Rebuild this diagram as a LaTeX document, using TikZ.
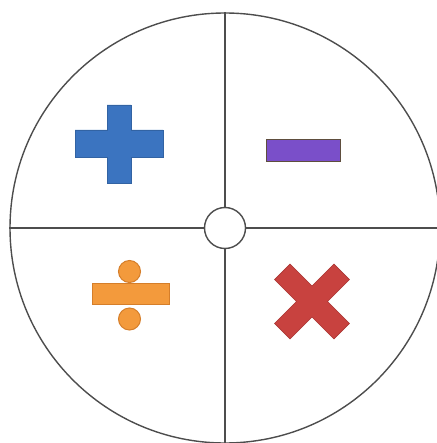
\documentclass[tikz,border=0pt]{standalone}
\usepackage{tikz}
\usetikzlibrary{positioning}
\definecolor{linegray}{HTML}{4D4D4D}
\definecolor{plusblue}{HTML}{3B74C0}
\definecolor{minusfill}{HTML}{7A4FC9}
\definecolor{minusedge}{HTML}{5E4E3E}
\definecolor{divfill}{HTML}{F39A3C}
\definecolor{divedge}{HTML}{D57E2A}
\definecolor{timesred}{HTML}{C8423F}
\begin{document}
\begin{tikzpicture}[x=1pt,y=-1pt,
  ring/.style={circle,draw=linegray,line width=1.4pt,minimum size=430pt,inner sep=0pt},
  hub/.style={circle,draw=linegray,line width=1.4pt,minimum size=41pt,inner sep=0pt},
  axis/.style={draw=linegray,line width=1.8pt},
  symb/.style={rectangle,inner sep=0pt,line width=1pt},
  dot/.style={circle,inner sep=0pt,minimum size=22pt,fill=divfill,draw=divedge,line width=1pt}]
  \useasboundingbox (0,0) rectangle (436,443);
  \node[ring] (ring) at (225,228) {};
  \node[hub] (hub) at (225,228) {};
  \draw[axis] (ring.north) -- (hub.north); \draw[axis] (hub.south) -- (ring.south);
  \draw[axis] (ring.west) -- (hub.west); \draw[axis] (hub.east) -- (ring.east);
  % plus
  \filldraw[fill=plusblue,draw=plusblue!85!black,line width=0.6pt] (107,105) -- (131,105) -- (131,130) -- (163,130) -- (163,157) -- (131,157)
    -- (131,183) -- (107,183) -- (107,157) -- (75,157) -- (75,130) -- (107,130) -- cycle;
  % minus
  \node[symb,fill=minusfill,draw=minusedge,line width=1.5pt,minimum width=74pt,minimum height=22pt] (minus) at (303.5,150.5) {};
  % divide
  \node[symb,fill=divfill,draw=divedge,minimum width=77pt,minimum height=21pt] (divbar) at (130.5,294) {};
  \node[dot] (divtop) at (129.5,271.5) {};
  \node[dot] (divbot) at (129.5,319) {};
  % times
  \begin{scope}[shift={(312,301.5)},rotate=45]
    \filldraw[fill=timesred,draw=timesred!85!black,line width=0.6pt] (-11,-42) -- (11,-42) -- (11,-11) -- (42,-11) -- (42,11) -- (11,11)
      -- (11,42) -- (-11,42) -- (-11,11) -- (-42,11) -- (-42,-11) -- (-11,-11) -- cycle;
  \end{scope}
\end{tikzpicture}
\end{document}
